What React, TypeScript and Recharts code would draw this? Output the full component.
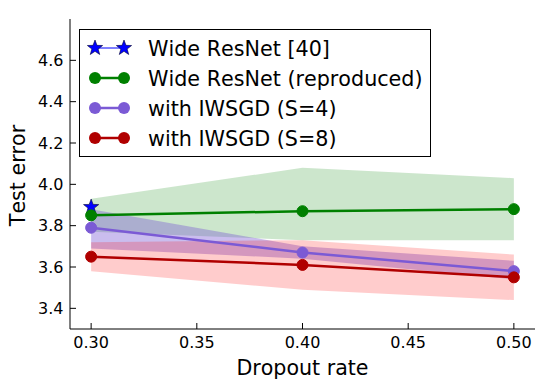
import { type ReactElement } from 'react';
import { Area, ComposedChart, Label, Legend, Line, XAxis, YAxis } from 'recharts';

const dropoutRates = [0.3, 0.4, 0.5];
const xTicks = [0.3, 0.35, 0.4, 0.45, 0.5];
const yTicks = [3.4, 3.6, 3.8, 4.0, 4.2, 4.4, 4.6];

const paperResult = [3.89, null, null];
const reproduced = [3.85, 3.87, 3.88];
const reproducedLow = [3.77, 3.73, 3.73];
const reproducedHigh = [3.93, 4.08, 4.03];
const iwsgd4 = [3.79, 3.67, 3.58];
const iwsgd4Low = [3.69, 3.64, 3.54];
const iwsgd4High = [3.88, 3.7, 3.63];
const iwsgd8 = [3.65, 3.61, 3.55];
const iwsgd8Low = [3.58, 3.49, 3.44];
const iwsgd8High = [3.72, 3.73, 3.66];

const FONT = '"DejaVu Sans", sans-serif';
const NO_KERN = { fontKerning: 'none' } as const;
const GREEN = '#008000';
const PURPLE = '#7b5ad5';
const RED = '#b00000';
const BLUE = '#0000ff';

const data = dropoutRates.map((rate, i) => ({
  rate,
  paper: paperResult[i],
  reproduced: reproduced[i],
  reproducedBand: [reproducedLow[i], reproducedHigh[i]],
  iwsgd4: iwsgd4[i],
  iwsgd4Band: [iwsgd4Low[i], iwsgd4High[i]],
  iwsgd8: iwsgd8[i],
  iwsgd8Band: [iwsgd8Low[i], iwsgd8High[i]],
}));

const legendRows = [
  { label: 'Wide ResNet [40]', color: BLUE, star: true },
  { label: 'Wide ResNet (reproduced)', color: GREEN, star: false },
  { label: 'with IWSGD (S=4)', color: PURPLE, star: false },
  { label: 'with IWSGD (S=8)', color: RED, star: false },
];

function starPath(cx: number, cy: number, outer: number, inner: number): string {
  const pts: string[] = [];
  for (let k = 0; k < 10; k++) {
    const r = k % 2 === 0 ? outer : inner;
    const a = -Math.PI / 2 + (k * Math.PI) / 5;
    pts.push(`${(cx + r * Math.cos(a)).toFixed(2)},${(cy + r * Math.sin(a)).toFixed(2)}`);
  }
  return `M${pts.join('L')}Z`;
}

const StarDot = (props: any) => {
  const { cx, cy, value } = props;
  if (value == null || cx == null || cy == null) return <g key={props.key} />;
  return <path key={props.key} d={starPath(cx, cy, 8, 3.3)} fill={BLUE} stroke="#000033" strokeWidth={0.6} />;
};

const BottomTick = ({ x, y, payload }: any) => (
  <g>
    <line x1={x} x2={x} y1={y} y2={y - 6} stroke="#000" />
    <text x={x} y={y + 19.3} textAnchor="middle" fontSize={16} fontFamily={FONT} fill="#000" style={NO_KERN}>
      {Number(payload.value).toFixed(2)}
    </text>
  </g>
);

const TopTick = ({ x, y }: any) => <line x1={x} x2={x} y1={y} y2={y + 6} stroke="#000" />;

const LeftTick = ({ x, y, payload }: any) => (
  <g>
    <line x1={x} x2={x + 6} y1={y} y2={y} stroke="#000" />
    <text x={x - 6.5} y={y + 5.8} textAnchor="end" fontSize={16} fontFamily={FONT} fill="#000" style={NO_KERN}>
      {Number(payload.value).toFixed(1)}
    </text>
  </g>
);

const RightTick = ({ x, y }: any) => <line x1={x - 6} x2={x} y1={y} y2={y} stroke="#000" />;

const renderLegend = () => (
  <div style={{ border: '1px solid #000', background: '#fff', width: 350, height: 126 }}>
    <svg width={350} height={126} style={{ display: 'block' }}>
      {legendRows.map((row, i) => {
        const cy = 18 + 30 * i;
        return (
          <g key={row.label}>
            <line x1={15} x2={44} y1={cy} y2={cy} stroke={row.color} strokeWidth={row.star ? 1 : 2.5} />
            {row.star ? (
              <>
                <path d={starPath(15, cy, 8, 3.3)} fill={BLUE} stroke="#000033" strokeWidth={0.6} />
                <path d={starPath(44, cy, 8, 3.3)} fill={BLUE} stroke="#000033" strokeWidth={0.6} />
              </>
            ) : (
              <>
                <circle cx={15} cy={cy} r={6} fill={row.color} />
                <circle cx={44} cy={cy} r={6} fill={row.color} />
              </>
            )}
            <text x={68} y={cy + 7.5} fontSize={20.7} fontFamily={FONT} fill="#000" style={NO_KERN}>
              {row.label}
            </text>
          </g>
        );
      })}
    </svg>
  </div>
);

export default function App(): ReactElement {
  return (
    <div style={{ position: 'absolute', left: 0, top: 0, fontFamily: FONT }}>
      <ComposedChart width={544} height={389} data={data} margin={{ top: 19, right: 9, bottom: 0, left: 0 }}>
        <XAxis
          dataKey="rate"
          type="number"
          domain={[0.29, 0.51]}
          ticks={xTicks}
          allowDataOverflow
          height={60}
          tickSize={0}
          tickMargin={0}
          tickLine={false}
          tick={<BottomTick />}
          axisLine={{ stroke: '#000', strokeWidth: 1 }}
        >
          <Label
            content={({ viewBox }: any) => (
              <text
                x={viewBox.x + viewBox.width / 2}
                y={viewBox.y + 46}
                textAnchor="middle"
                fontSize={20.6}
                fontFamily={FONT}
                fill="#000"
                style={NO_KERN}
              >
                Dropout rate
              </text>
            )}
          />
        </XAxis>
        <XAxis
          xAxisId="top"
          orientation="top"
          dataKey="rate"
          type="number"
          domain={[0.29, 0.51]}
          ticks={xTicks}
          allowDataOverflow
          height={0}
          tickSize={0}
          tickMargin={0}
          tickLine={false}
          tick={<TopTick />}
          axisLine={{ stroke: '#000', strokeWidth: 1 }}
        />
        <YAxis
          type="number"
          domain={[3.3, 4.8]}
          ticks={yTicks}
          allowDataOverflow
          width={70}
          tickSize={0}
          tickMargin={0}
          tickLine={false}
          tick={<LeftTick />}
          axisLine={{ stroke: '#000', strokeWidth: 1 }}
        >
          <Label
            content={({ viewBox }: any) => {
              const cx = 25;
              const cy = viewBox.y + viewBox.height / 2 + 1.5;
              return (
                <text
                  x={cx}
                  y={cy}
                  transform={`rotate(-90, ${cx}, ${cy})`}
                  textAnchor="middle"
                  fontSize={20.6}
                  fontFamily={FONT}
                  fill="#000"
                  style={NO_KERN}
                >
                  Test error
                </text>
              );
            }}
          />
        </YAxis>
        <YAxis
          yAxisId="right"
          orientation="right"
          type="number"
          domain={[3.3, 4.8]}
          ticks={yTicks}
          allowDataOverflow
          width={0}
          tickSize={0}
          tickMargin={0}
          tickLine={false}
          tick={<RightTick />}
          axisLine={{ stroke: '#000', strokeWidth: 1 }}
        />
        <Area
          dataKey="reproducedBand"
          type="linear"
          stroke="none"
          fill={GREEN}
          fillOpacity={0.2}
          isAnimationActive={false}
          activeDot={false}
        />
        <Area
          dataKey="iwsgd4Band"
          type="linear"
          stroke="none"
          fill={PURPLE}
          fillOpacity={0.4}
          isAnimationActive={false}
          activeDot={false}
        />
        <Area
          dataKey="iwsgd8Band"
          type="linear"
          stroke="none"
          fill="#ff0000"
          fillOpacity={0.2}
          isAnimationActive={false}
          activeDot={false}
        />
        <Line
          dataKey="paper"
          stroke={BLUE}
          strokeWidth={1}
          dot={<StarDot />}
          activeDot={false}
          isAnimationActive={false}
        />
        <Line
          dataKey="reproduced"
          type="linear"
          stroke={GREEN}
          strokeWidth={2.5}
          dot={{ r: 5.5, fill: GREEN, stroke: GREEN, strokeWidth: 1 }}
          activeDot={false}
          isAnimationActive={false}
        />
        <Line
          dataKey="iwsgd4"
          type="linear"
          stroke={PURPLE}
          strokeWidth={2.5}
          dot={{ r: 5.5, fill: PURPLE, stroke: PURPLE, strokeWidth: 1 }}
          activeDot={false}
          isAnimationActive={false}
        />
        <Line
          dataKey="iwsgd8"
          type="linear"
          stroke={RED}
          strokeWidth={2.5}
          dot={{ r: 5.5, fill: RED, stroke: RED, strokeWidth: 1 }}
          activeDot={false}
          isAnimationActive={false}
        />
        <Legend
          layout="horizontal"
          verticalAlign="middle"
          align="center"
          content={renderLegend}
          wrapperStyle={{ left: 79, top: 29, width: 352, height: 128 }}
        />
      </ComposedChart>
    </div>
  );
}
